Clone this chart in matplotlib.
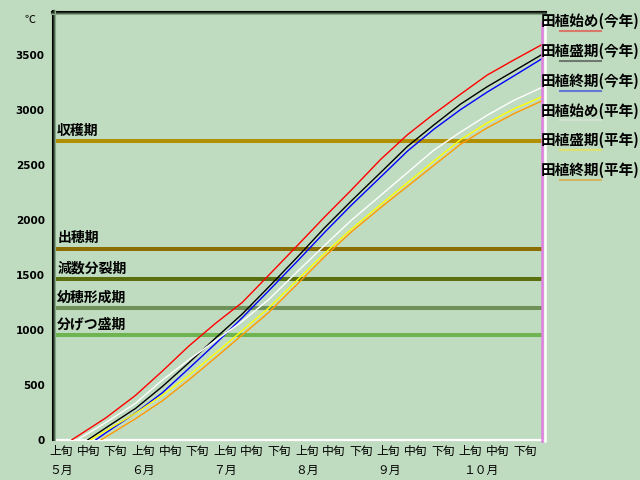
import matplotlib
matplotlib.use("Agg")
import matplotlib.pyplot as plt
from matplotlib.lines import Line2D

plt.rcParams['font.family'] = ['Noto Sans CJK JP', 'DejaVu Sans']

# days counted from May 1, values = accumulated temperature (℃)
red_days = [7, 10, 20, 31, 41, 51, 61, 71, 81, 92, 102, 112, 123, 133, 143, 153, 163, 173, 184]
red_vals = [0, 47, 204, 406, 625, 854, 1060, 1249, 1498, 1774, 2028, 2272, 2550, 2773, 2964, 3143, 3317, 3454, 3600]

black_days = [13, 20, 31, 41, 51, 61, 71, 81, 92, 102, 112, 123, 133, 143, 153, 163, 173, 184]
black_vals = [0, 113, 287, 485, 702, 926, 1144, 1391, 1669, 1930, 2173, 2431, 2667, 2864, 3053, 3211, 3353, 3510]

blue_days = [16, 20, 31, 41, 51, 61, 71, 81, 92, 102, 112, 123, 133, 143, 153, 163, 173, 184]
blue_vals = [0, 68, 246, 428, 650, 875, 1110, 1357, 1632, 1888, 2134, 2390, 2624, 2825, 3003, 3162, 3309, 3472]

white_days = [9, 10, 20, 31, 41, 51, 61, 71, 81, 92, 102, 112, 123, 133, 143, 153, 163, 173, 184]
white_vals = [0, 14, 162, 334, 544, 729, 903, 1078, 1277, 1536, 1770, 1997, 2223, 2429, 2635, 2799, 2952, 3087, 3210]

yellow_days = [14, 20, 31, 41, 51, 61, 71, 81, 92, 102, 112, 123, 133, 143, 153, 163, 173, 184]
yellow_vals = [0, 86, 243, 407, 586, 788, 993, 1200, 1460, 1697, 1916, 2139, 2337, 2534, 2730, 2881, 3009, 3124]

orange_days = [18, 20, 31, 41, 51, 61, 71, 81, 92, 102, 112, 123, 133, 143, 153, 163, 173, 184]
orange_vals = [0, 30, 194, 355, 546, 748, 954, 1159, 1423, 1667, 1891, 2112, 2304, 2496, 2688, 2837, 2966, 3087]

series_names = ['田植始め(今年)', '田植盛期(今年)', '田植終期(今年)',
                '田植始め(平年)', '田植盛期(平年)', '田植終期(平年)']
series_colors = ['#ff0000', '#000000', '#0000ff', '#ffffff', '#ffff00', '#ff9900']
legend_colors = ['#d87868', '#6e786e', '#6478d2', '#d2e1d2', '#dce16e', '#d2b464']

stage_names = ['収穫期', '出穂期', '減数分裂期', '幼穂形成期', '分げつ盛期']
stage_vals = [2718, 1740, 1464, 1200, 952]
stage_colors = ['#b09000', '#8c6e00', '#5a7010', '#6e915a', '#6eb450']

dekad_labels = ['上旬', '中旬', '下旬'] * 6
month_labels = ['５月', '６月', '７月', '８月', '９月', '１０月']
yticks = [0, 500, 1000, 1500, 2000, 2500, 3000, 3500]

W, H = 640, 480
bg = '#c0dcc0'
fig = plt.figure(figsize=(6.4, 4.8), dpi=100, facecolor=bg)


def px(x, y):
    return x / W, 1 - y / H


ax = fig.add_axes([53 / W, 40 / H, 490 / W, 429 / H], facecolor=bg)
ax.set_xlim(0, 184)
ax.set_ylim(0, 3900)

for v, c in zip(stage_vals, stage_colors):
    ax.axhline(v, color=c, lw=2.9, zorder=2)
for name, v in zip(stage_names, stage_vals):
    ax.annotate(name, (0, v), xytext=(3, 2.5), textcoords='offset points',
                fontsize=10, fontweight='bold', va='bottom', ha='left', zorder=3)

all_days = [red_days, black_days, blue_days, white_days, yellow_days, orange_days]
all_vals = [red_vals, black_vals, blue_vals, white_vals, yellow_vals, orange_vals]
for d, v, c in zip(all_days, all_vals, series_colors):
    ax.plot(d, v, color=c, lw=1.0, zorder=4)

ax.set_xticks([])
ax.set_yticks(yticks)
ax.set_yticklabels([str(t) for t in yticks], fontsize=7.5, fontweight='bold',
                   family='DejaVu Sans')
ax.tick_params(axis='y', length=0, pad=6)

for s in ['left', 'top', 'right']:
    ax.spines[s].set_visible(False)
ax.spines['bottom'].set_color('white')
ax.spines['bottom'].set_linewidth(1.6)

# frame: dark left/top edges with shading, pink right edge
for i, c in enumerate(['#000000', '#1e2e1e', '#4a644a', '#8aa88a']):
    fig.add_artist(Line2D([px(52 + i, 0)[0]] * 2, [px(0, 10)[1], px(0, 440)[1]],
                          color=c, lw=0.8))
    fig.add_artist(Line2D([px(51, 0)[0], px(546, 0)[0]], [px(0, 11 + i)[1]] * 2,
                          color=c, lw=0.8))
fig.add_artist(Line2D([px(542, 0)[0]] * 2, [px(0, 22)[1], px(0, 441)[1]],
                      color='#e080e0', lw=1.8))
fig.add_artist(Line2D([px(545, 0)[0]] * 2, [px(0, 22)[1], px(0, 441)[1]],
                      color='white', lw=1.8))

fig.text(*px(30, 20), '℃', fontsize=8, ha='center', va='center')

for i, lab in enumerate(dekad_labels):
    fig.text(*px(61 + 27.3 * i, 451), lab, fontsize=8.5, ha='center', va='center')
for i, lab in enumerate(month_labels):
    fig.text(*px(61 + 27.3 * 3 * i + (10 if i == 5 else 0), 470), lab,
             fontsize=8.5, ha='center', va='center')

for i, (name, c) in enumerate(zip(series_names, legend_colors)):
    y = 21 + 29.8 * i
    fig.text(*px(541, y), name, fontsize=10.5, fontweight='bold', ha='left', va='center')
    fig.add_artist(Line2D([px(560, 0)[0], px(601, 0)[0]], [px(0, y + 10)[1]] * 2,
                          color=c, lw=1.5))

fig.savefig('out.png', dpi=100, facecolor=bg)
